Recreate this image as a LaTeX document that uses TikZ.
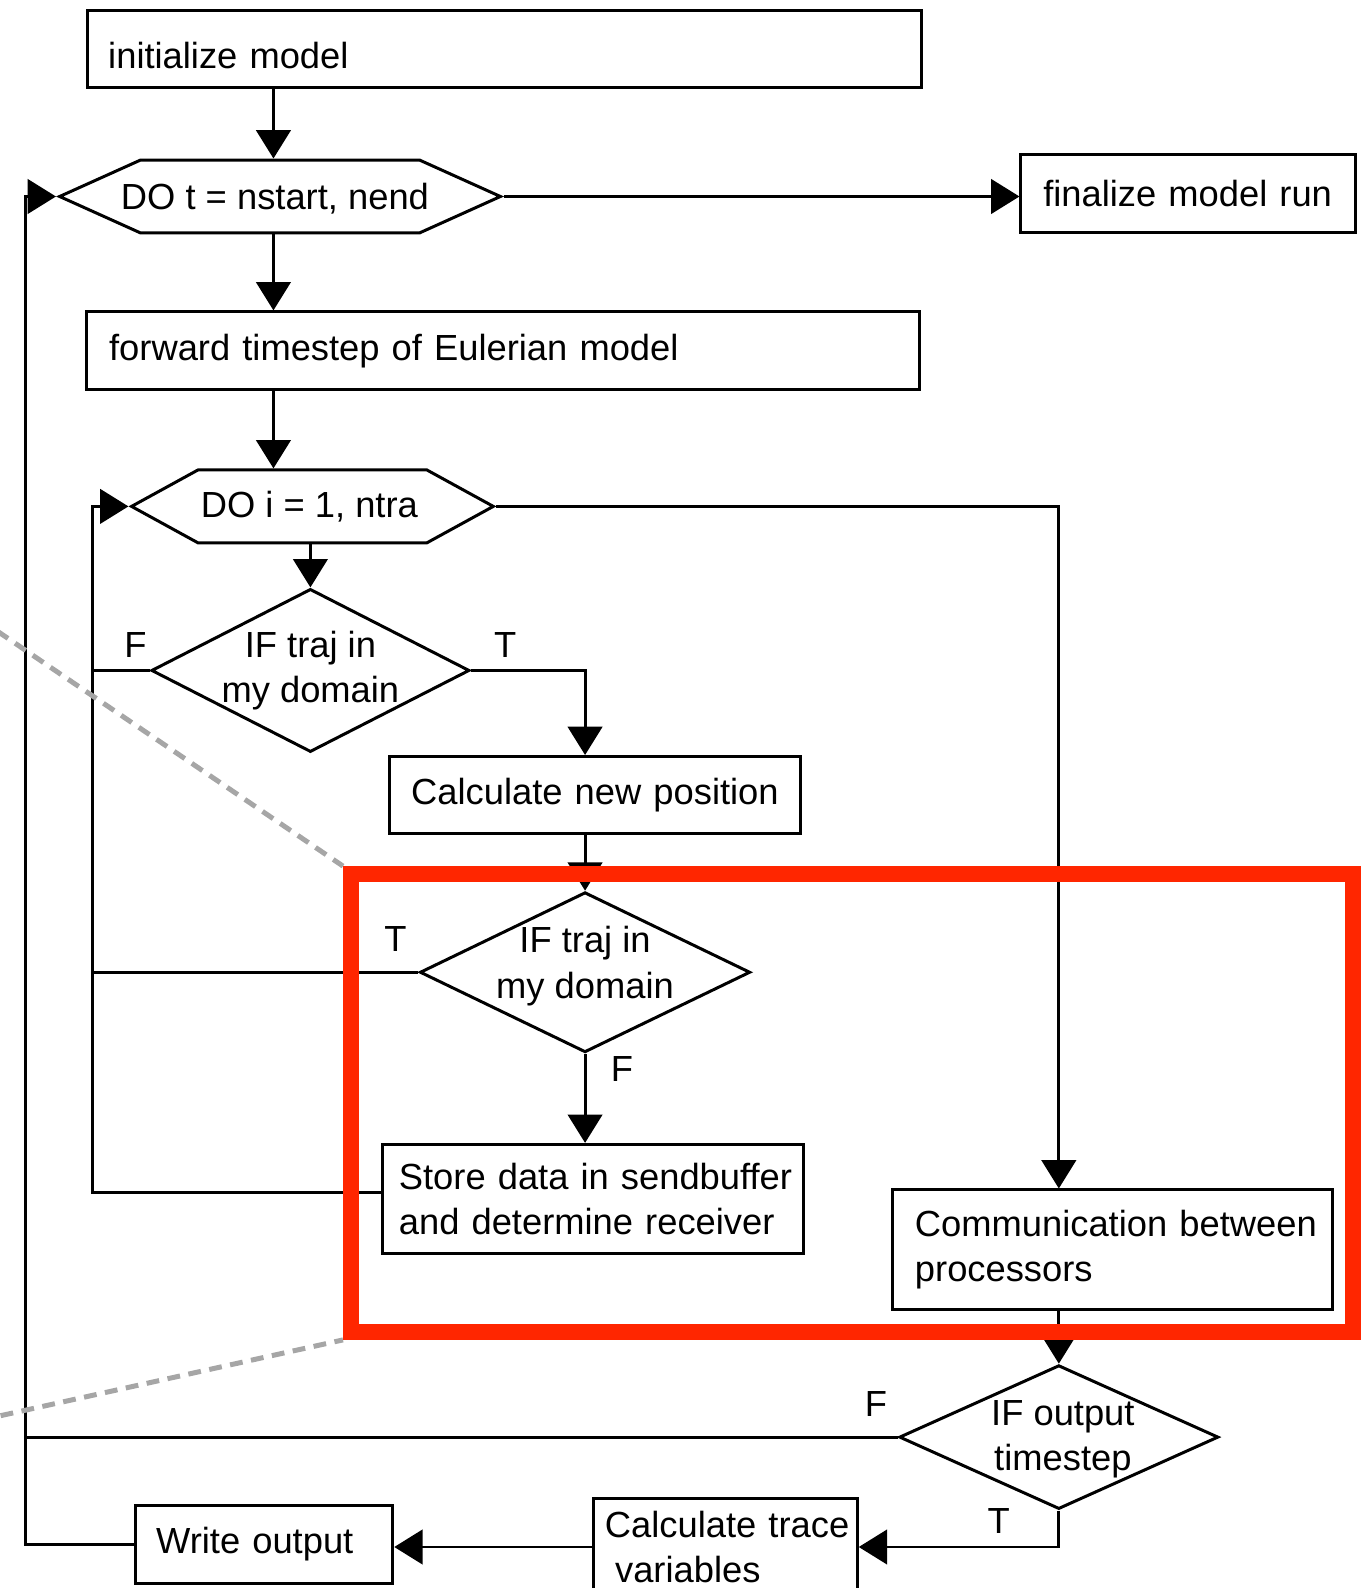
\documentclass[tikz,border=0pt]{standalone}
\usepackage{fontspec}
\setmainfont{Liberation Sans}
\usetikzlibrary{arrows.meta,shapes.geometric,shapes.symbols}
\definecolor{rosso}{RGB}{255,38,0}
\tikzset{
>={Triangle[length=0.28cm,width=0.34cm]},
blocco/.style={draw,line width=0.84pt,inner xsep=0.2cm,inner ysep=0pt,align=left},
giro/.style={draw,line width=0.84pt,signal,signal to=west and east,minimum height=0.72cm,inner sep=0pt},
scelta/.style={draw,line width=0.84pt,diamond,inner sep=0pt},
testo/.style={align=center,inner sep=0pt},
freccia/.style={->,line width=0.84pt},
linea/.style={line width=0.84pt},
cornice/.style={draw=rosso,line width=4.5pt},
rimando/.style={draw=black!35,line width=1.4pt,dash pattern=on 3.6pt off 2.4pt}}

\begin{document}
\begin{tikzpicture}[x=0.01cm,y=-0.01cm,font=\fontsize{10.2}{12.8}\selectfont]

\useasboundingbox (0,0) rectangle (1350,1568);
\clip (0,0) rectangle (1350,1568);

\coordinate (asse) at (270,0);
\coordinate (esterno) at (25,0);
\coordinate (interno) at (91,0);

\node[blocco,text width=7.83cm,text height=11.5pt,minimum height=0.76cm] (init) at (498.6,48) {initialize model};
\node[giro,signal pointer angle=48.5,minimum width=4.35cm,
  label={[testo,xshift=-0.05cm,yshift=-0.02cm]center:DO t = nstart, nend}] (dot) at (276.5,194) {};
\node[blocco,text width=2.86cm,inner xsep=0.22cm,minimum height=0.77cm] (fine) at (1173.2,191.4) {finalize model run};
\node[blocco,text width=7.78cm,inner xsep=0.22cm,minimum height=0.77cm] (avanti) at (497,346.5) {forward timestep of Eulerian model};
\node[giro,signal pointer angle=57.5,minimum width=3.57cm,
  label={[testo,xshift=-0.03cm]center:DO i = 1, ntra}] (doi) at (308.5,500) {};
\node[scelta,minimum width=3.14cm,minimum height=1.61cm,
  label={[testo]center:IF traj in\\my domain}] (dentro1) at (306.5,662) {};
\node[blocco,align=center,text width=3.65cm,minimum height=0.76cm] (nuova) at (587.5,785) {Calculate new position};
\node[scelta,minimum width=3.26cm,minimum height=1.58cm,
  label={[testo,yshift=0.06cm]center:IF traj in\\my domain}] (dentro2) at (577.7,960) {};
\node[blocco,text width=3.83cm,inner xsep=0.16cm,minimum height=1.08cm] (invio) at (585.5,1184) {\mbox{Store data in sendbuffer}\\\mbox{and determine receiver}};
\node[blocco,text width=3.905cm,inner xsep=0.22cm,minimum height=1.18cm] (comm) at (1098.8,1234) {\mbox{Communication between}\\processors};
\node[scelta,minimum width=3.15cm,minimum height=1.42cm,
  label={[testo,xshift=0.04cm,yshift=-0.02cm]center:IF output\\timestep}] (uscita) at (1045.5,1419) {};
\node[blocco,text width=2.38cm,inner xsep=0.11cm,minimum height=0.96cm] (traccia) at (716.4,1527.5) {\mbox{Calculate trace}\\\hspace*{0.28em}variables};
\node[blocco,text width=2.135cm,minimum height=0.77cm] (scrivi) at (261,1524.6) {Write output};

% outer loop
\draw[freccia] (init.south -| asse) -- (dot.north -| asse);
\draw[freccia] (dot.east) -- (dot.east -| fine.west);
\draw[freccia] (dot.south -| asse) -- (avanti.north -| asse);
\draw[freccia] (avanti.south -| asse) -- (doi.north -| asse);

% inner loop
\draw[freccia] (doi.south -| dentro1.north) -- (dentro1.north);
\draw[freccia] (dentro1.east) -| node[above,pos=0.15] {T} (nuova.north -| dentro2.north);
\draw[linea] (dentro1.west) -- node[above,pos=0.25] {F} (dentro1.west -| interno);
\draw[freccia] (nuova.south -| dentro2.north) -- (dentro2.north);
\draw[linea] (dentro2.west) -- node[above=2pt,pos=0.07] {T} (dentro2.west -| interno);
\draw[freccia] (dentro2.south) -- node[right=3.5pt,pos=0.17] {F} (invio.north -| dentro2.south);
\draw[freccia] ([yshift=0.07cm]invio.west) -- ([yshift=0.07cm]invio.west -| interno) -- (interno |- doi.west) -- (doi.west);
\draw[freccia] (doi.east) -| (comm.north -| uscita.north);

% output
\draw[freccia] (comm.south -| uscita.north) -- (uscita.north);
\draw[linea] (uscita.west) -- node[above=2pt,pos=0.025] {F} (uscita.west -| esterno);
\draw[freccia] (uscita.south) |- node[above,pos=0.65] {T} (traccia.east);
\draw[freccia] (traccia.west) -- (traccia.west -| scrivi.east);
\draw[freccia] (scrivi.west) -- (scrivi.west -| esterno) -- (esterno |- dot.west) -- (dot.west);

% zoom frame
\coordinate (bordoA) at (-20,611.4);
\coordinate (bordoB) at (-20,1402.4);
\coordinate (angoloA) at (338.7,855.2);
\coordinate (angoloB) at (338.7,1323);
\draw[rimando] (bordoA) -- (angoloA);
\draw[rimando] (bordoB) -- (angoloB);
\draw[cornice] (346.6,863.1) rectangle (1335.7,1315);
\end{tikzpicture}
\end{document}
